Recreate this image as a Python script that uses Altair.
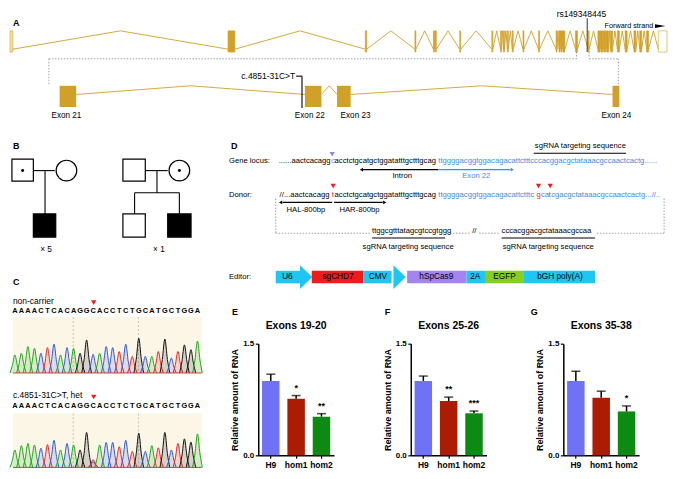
import altair as alt
import pandas as pd

FONT = "Liberation Sans"
W, H = 660, 463          # drawing size
RW, RH = 676, 479        # reference coordinate frame
HC = 336                 # height of the diagram view (top of bar plots)

# ---------------- Panel A: CHD7 gene model ----------------
gene_exon_start = [0, 224, 365, 416, 435, 437, 462, 495, 504, 507, 511, 516, 527, 543, 561, 564,
                   566, 568, 581, 594, 604, 607, 610, 613, 617, 624, 632, 641, 647, 654, 666]
gene_exon_end = [3, 231, 366.5, 417, 436, 438, 463, 496, 505, 508, 512, 517, 528, 544, 562, 565,
                 567, 570, 583, 595, 606, 609, 612, 615, 619, 626, 634, 643, 649, 656, 675]
zoom_exon_names = ["Exon 21", "Exon 22", "Exon 23", "Exon 24"]
zoom_exon_start = [51, 303, 336, 619]
zoom_exon_end = [68, 320, 350, 626]
zoom_exon_label_x = [58, 308, 355, 623]

# ---------------- Panel B: pedigrees ----------------
ped_x0 = [2, 24, 116, 116, 162]
ped_x1 = [24, 47, 139, 139, 186]
ped_y0 = [156, 213, 156, 213, 213]
ped_y1 = [179, 237, 179, 237, 237]
ped_fill = ["white", "black", "white", "white", "black"]
ped_circle_x = [58, 174]
ped_dot_x = [13, 174]

# ---------------- Panel C: Sanger chromatograms ----------------
seq = "AAAACTCACAGGCACCTCTGCATGCTGGA"
peak_noncarrier = [0.52, 0.57, 0.76, 0.71, 0.57, 0.73, 0.83, 0.52, 0.73, 0.71, 0.57, 0.95, 0.54, 0.57,
                   0.76, 0.73, 0.62, 0.83, 0.48, 1.0, 0.48, 0.48, 0.62, 0.98, 0.43, 0.62, 0.81, 0.67, 0.92]
peak_het = [0.49, 0.61, 0.67, 0.63, 0.54, 0.64, 0.76, 0.49, 0.67, 0.63, 0.49, 0.98, 0.16, 0.63,
            0.70, 0.70, 0.58, 0.76, 0.45, 0.96, 0.45, 0.61, 0.55, 0.98, 0.49, 0.67, 0.80, 0.71, 0.94]
het_extra_base = "T"
het_extra_height = 0.22
base_colors = {"A": "#1fa51f", "C": "#2f55e0", "G": "#111111", "T": "#e3262b"}

# ---------------- Panel D: editing strategy ----------------
editor_parts = ["U6", "sgCHD7", "CMV", "hSpCas9", "2A", "EGFP", "bGH poly(A)"]
editor_start = [273, 310, 363, 408, 469, 488, 528]
editor_end = [298, 363, 392, 469, 488, 528, 601]
editor_colors = ["#1fc6f1", "#ee1c1c", "#1fc6f1", "#a384f0", "#1fc6f1", "#86cf1f", "#1fc6f1"]
editor_label_x = [285, 337, 378, 438, 478, 508, 565]

# ---------------- Panels E-G: qPCR ----------------
groups = ["H9", "hom1", "hom2"]
bar_colors = ["#6f72f5", "#ac1c02", "#0c8a12"]
titles = ["Exons 19-20", "Exons 25-26", "Exons 35-38"]
rna_mean = [[1.00, 0.76, 0.52], [1.00, 0.73, 0.565], [1.00, 0.775, 0.59]]
rna_err = [[0.09, 0.043, 0.04], [0.065, 0.052, 0.03], [0.13, 0.087, 0.074]]
rna_sig = [["", "*", "**"], ["", "**", "***"], ["", "", "*"]]

BLUE = "#3a8ee0"
PURPLE = "#9b80ee"
RED = "#ee1c1c"
GOLD = "#d1a028"

XS = alt.Scale(domain=[0, RW], range=[0, W], nice=False, zero=False)
YS = alt.Scale(domain=[0, RH], range=[0, H], nice=False, zero=False)


def X(f="x"):
    return alt.X(f + ":Q", scale=XS, axis=None)


def Y(f="y", stack=False):
    if stack:
        return alt.Y(f + ":Q", scale=YS, axis=None, stack=None)
    return alt.Y(f + ":Q", scale=YS, axis=None)


layers = []

# --- gene exons (top) ---
gdf = pd.DataFrame({"x": gene_exon_start, "x2": gene_exon_end})
gdf["fill"] = [GOLD] * len(gdf)
gdf.loc[0, "fill"] = "#f1dfb4"
gdf.loc[len(gdf) - 1, "fill"] = "white"
gdf["y"] = 23
gdf["y2"] = 45
layers.append(alt.Chart(gdf).mark_rect(stroke=GOLD, strokeWidth=0.6).encode(
    x=X(), x2="x2:Q", y=Y(), y2="y2:Q", fill=alt.Fill("fill:N", scale=None)))


def chevrons(starts, ends, y_end, y_peak, tag):
    rows = []
    for i in range(len(starts) - 1):
        a, b = ends[i], starts[i + 1]
        rows += [dict(g=f"{tag}{i}", x=a, y=y_end, o=0),
                 dict(g=f"{tag}{i}", x=(a + b) / 2, y=y_peak, o=1),
                 dict(g=f"{tag}{i}", x=b, y=y_end, o=2)]
    return rows


intr = pd.DataFrame(chevrons(gene_exon_start, gene_exon_end, 42, 23, "a")
                    + chevrons(zoom_exon_start, zoom_exon_end, 89, 80, "b"))
layers.append(alt.Chart(intr).mark_line(color=GOLD, strokeWidth=0.9).encode(
    x=X(), y=Y(), detail="g:N", order="o:Q"))

zdf = pd.DataFrame({"x": zoom_exon_start, "x2": zoom_exon_end, "y": 80, "y2": 102})
layers.append(alt.Chart(zdf).mark_rect(color=GOLD).encode(x=X(), x2="x2:Q", y=Y(), y2="y2:Q"))

# --- straight rules ---
solid = [
    # A
    (294, 70, 300, 70, "#000"), (300, 70, 300, 103, "#000"), (593, 10, 593, 45, "#444"),
    # B
    (24, 168, 46, 168, "#000"), (36, 168, 36, 213, "#000"),
    (139, 168, 162, 168, "#000"), (151, 168, 151, 191, "#000"), (128, 191, 174, 191, "#000"),
    (128, 191, 128, 213, "#000"), (174, 191, 174, 213, "#000"),
    # D
    (538, 150, 633, 150, "#000"), (372, 238, 447, 238, "#000"), (505, 238, 601, 238, "#000"),
    (362, 167, 440, 167, "#000"), (440, 167, 514, 167, BLUE),
    (280, 201, 331, 201, "#000"), (333, 201, 383, 201, "#000"),
]
sdf = pd.DataFrame(solid, columns=["x", "y", "x2", "y2", "c"])
layers.append(alt.Chart(sdf).mark_rule(strokeWidth=1.1).encode(
    x=X(), y=Y(), x2="x2:Q", y2="y2:Q", color=alt.Color("c:N", scale=None)))

dashed = [
    (40, 52, 40, 80), (40, 52, 582, 52), (582, 45, 582, 52), (595, 45, 595, 52),
    (595, 52, 625, 52), (625, 52, 625, 80),
    (273, 197, 273, 233), (672, 197, 672, 233), (273, 233, 370, 233), (449, 233, 473, 233),
    (482, 233, 503, 233), (603, 233, 672, 233),
]
ddf = pd.DataFrame(dashed, columns=["x", "y", "x2", "y2"])
layers.append(alt.Chart(ddf).mark_rule(strokeWidth=0.8, color="#8a8a8a", strokeDash=[1.5, 1.5]).encode(
    x=X(), y=Y(), x2="x2:Q", y2="y2:Q"))

# --- pedigree ---
pdf = pd.DataFrame({"x": ped_x0, "x2": ped_x1, "y": ped_y0, "y2": ped_y1, "f": ped_fill})
layers.append(alt.Chart(pdf).mark_rect(stroke="black", strokeWidth=1.2).encode(
    x=X(), x2="x2:Q", y=Y(), y2="y2:Q", fill=alt.Fill("f:N", scale=None)))
cdf = pd.DataFrame({"x": ped_circle_x, "y": 168})
layers.append(alt.Chart(cdf).mark_point(shape="circle", size=430, filled=True, fill="white",
                                         stroke="black", strokeWidth=1.2, opacity=1).encode(x=X(), y=Y()))
dotdf = pd.DataFrame({"x": ped_dot_x, "y": 168})
layers.append(alt.Chart(dotdf).mark_point(shape="circle", size=9, filled=True, color="black",
                                           opacity=1).encode(x=X(), y=Y()))

# --- chromatograms ---
seq_x = [5 + i * 6.7 for i in range(len(seq))]
bg = pd.DataFrame({"x": [3, 3], "x2": [197, 197], "y": [320, 420], "y2": [378, 477]})
layers.append(alt.Chart(bg).mark_rect(color="#fcf6e6").encode(x=X(), x2="x2:Q", y=Y(), y2="y2:Q"))
vd = pd.DataFrame({"x": [65, 132, 65, 132], "y": [320, 320, 420, 420], "y2": [378, 378, 477, 477]})
layers.append(alt.Chart(vd).mark_rule(color="#b5b5b5", strokeWidth=0.8, strokeDash=[2, 2]).encode(
    x=X(), y=Y(), y2="y2:Q"))

prow = []


def add_peaks(heights, base_y, scale, tag):
    for i, (b, h) in enumerate(zip(seq, heights)):
        for k, (dx, f) in enumerate([(-5, 0), (-2.6, 0.4), (0, 1), (2.6, 0.4), (5, 0)]):
            prow.append(dict(p=f"{tag}{i}", x=seq_x[i] + dx, y=base_y - h * f * scale,
                             y0=base_y, c=base_colors[b]))


add_peaks(peak_noncarrier, 378, 36, "n")
add_peaks(peak_het, 476, 37, "h")
for k, (dx, f) in enumerate([(-5, 0), (-2.6, 0.4), (0, 1), (2.6, 0.4), (5, 0)]):
    prow.append(dict(p="hx", x=seq_x[12] + dx, y=476 - het_extra_height * f * 37, y0=476,
                     c=base_colors[het_extra_base]))
pk = pd.DataFrame(prow)
layers.append(alt.Chart(pk).mark_area(interpolate="monotone", opacity=0.16).encode(
    x=X(), y=Y(stack=True), y2="y0:Q", detail="p:N", color=alt.Color("c:N", scale=None)))
layers.append(alt.Chart(pk).mark_line(interpolate="monotone", strokeWidth=1).encode(
    x=X(), y=Y(), detail="p:N", color=alt.Color("c:N", scale=None)))
bl = pd.DataFrame({"x": [3, 3], "x2": [197, 197], "y": [378, 476]})
layers.append(alt.Chart(bl).mark_rule(color="#e03a3a", strokeWidth=1).encode(x=X(), x2="x2:Q", y=Y()))

# --- editor construct ---
edf = pd.DataFrame({"x": editor_start, "x2": editor_end, "c": editor_colors, "y": 272, "y2": 285})
layers.append(alt.Chart(edf).mark_rect().encode(
    x=X(), x2="x2:Q", y=Y(), y2="y2:Q", color=alt.Color("c:N", scale=None)))
heads = pd.DataFrame({"x": [304, 400], "y": [278.5, 278.5]})
layers.append(alt.Chart(heads).mark_point(shape="M-0.5,-1L0.55,0L-0.5,1Z", size=560, filled=True,
                                           color="#1fc6f1", opacity=1).encode(x=X(), y=Y()))

# --- triangles / arrow heads ---
tri = pd.DataFrame([
    (331, 151, PURPLE, "triangle-down", 28), (332, 184, RED, "triangle-down", 28),
    (543, 184, RED, "triangle-down", 28), (555, 184, RED, "triangle-down", 28),
    (86, 305, RED, "triangle-down", 28), (86, 403, RED, "triangle-down", 28),
    (361, 167, "#000", "triangle-left", 14), (516, 167, BLUE, "triangle-right", 14),
    (278, 201, "#000", "triangle-left", 14), (385, 201, "#000", "triangle-right", 14),
], columns=["x", "y", "c", "s", "sz"])
layers.append(alt.Chart(tri).mark_point(filled=True, opacity=1).encode(
    x=X(), y=Y(), color=alt.Color("c:N", scale=None), shape=alt.Shape("s:N", scale=None),
    size=alt.Size("sz:Q", scale=None)))
fwd = pd.DataFrame({"x": [668], "y": [18]})
layers.append(alt.Chart(fwd).mark_point(shape="M-1,-0.35L1,0L-1,0.35Z", size=110, filled=True,
                                         color="black", opacity=1).encode(x=X(), y=Y()))

# --- texts ---
texts = []


def T(x, y, s, size=8.3, color="#000", align="left", bold=False):
    texts.append(dict(x=x, y=y, t=s, size=size, c=color, a=align, b=bold))


for lab, lx, ly in [("A", 3, 15), ("B", 3, 142), ("C", 3, 284), ("D", 227, 143),
                    ("E", 228, 315), ("F", 385, 315), ("G", 535, 315)]:
    T(lx, ly, lab, 9, bold=True)
T(587, 5, "rs149348445", 8.5, align="center")
T(661, 18, "Forward strand", 7.3, align="right")
T(293, 70, "c.4851-31C>T", 8.5, align="right")
for name, lx in zip(zoom_exon_names, zoom_exon_label_x):
    T(lx, 111, name, 8.2, align="center")
T(37, 250, "× 5", 8.3, align="center")
T(153, 250, "× 1", 8.3, align="center")
T(3, 303, "non-carrier", 8.5)
T(3, 401, "c.4851-31C>T, het", 8.5)
for i, b in enumerate(seq):
    T(seq_x[i], 314, b, 7.4, align="center", bold=True)
    T(seq_x[i], 412, b, 7.4, align="center", bold=True)
SZ = 7.7
T(225, 158, "Gene locus:", SZ)
T(276, 158, "......aactcacagg", SZ)
T(330, 158, "c", SZ, PURPLE)
T(333.5, 158, "acctctgcatgctggatatttgctttgcag", SZ)
T(440, 158, "ttggggacggtggacagacattctttcccacggacgctataaacgccaactcactg......", SZ, BLUE)
T(586, 143, "sgRNA targeting sequence", SZ, align="center")
T(403, 174, "Intron", SZ, align="center")
T(479, 174, "Exon 22", SZ, BLUE, align="center")
T(225, 193, "Donor:", SZ)
T(277, 193, "//...aactcacagg", SZ)
T(330.5, 193, "t", SZ, RED)
T(333.5, 193, "acctctgcatgctggatatttgctttgcag", SZ)
T(440, 193, "ttggggacggtggacagacattctttc", SZ, BLUE)
T(541, 193, "g", SZ, RED)
T(545.5, 193, "ca", SZ, BLUE)
T(553.5, 193, "t", SZ, RED)
T(556, 193, "cgacgctataaacgccaactcactg...//..", SZ, BLUE)
T(304, 209, "HAL-800bp", SZ, align="center")
T(359, 209, "HAR-800bp", SZ, align="center")
T(372, 231, "ttggcgtttatagcgtccgtggg", SZ)
T(477, 231, "//", SZ, align="center")
T(505, 231, "cccacggacgctataaacgccaa", SZ)
T(409, 247, "sgRNA targeting sequence", SZ, align="center")
T(553, 247, "sgRNA targeting sequence", SZ, align="center")
T(225, 278, "Editor:", SZ)
for p, lx in zip(editor_parts, editor_label_x):
    T(lx, 278.5, p, 8.3, align="center")

tdf = pd.DataFrame(texts)
for (a, b), sub in tdf.groupby(["a", "b"]):
    layers.append(alt.Chart(sub).mark_text(align=a, baseline="middle", font=FONT,
                                           fontWeight="bold" if b else "normal").encode(
        x=X(), y=Y(), text="t:N", size=alt.Size("size:Q", scale=None),
        color=alt.Color("c:N", scale=None)))

canvas = alt.layer(*layers).properties(width=W, height=HC)


# ---------------- bar charts ----------------
def bar_chart(k):
    df = pd.DataFrame({"group": groups, "value": rna_mean[k], "err": rna_err[k], "sig": rna_sig[k]})
    base = alt.Chart(df).transform_calculate(top="datum.value + datum.err")
    xenc = alt.X("group:N", sort=groups,
                 scale=alt.Scale(paddingInner=0.31, paddingOuter=0.15),
                 axis=alt.Axis(title=None, labelAngle=0, labelFontSize=8.5, labelFontWeight="bold",
                               labelColor="black", domainColor="black", domainWidth=1.5,
                               tickColor="black", tickSize=3, tickWidth=1.2, labelPadding=2,
                               labelFont=FONT))
    ysc = alt.Scale(domain=[0, 1.5], nice=False)
    bars = base.mark_bar().encode(
        x=xenc,
        y=alt.Y("value:Q", scale=ysc,
                axis=alt.Axis(values=[0, 0.5, 1.0, 1.5], format=".1f", title="Relative amount of RNA",
                              grid=False, labelFontSize=8, labelFontWeight="bold", labelColor="black",
                              labelFont=FONT, domainColor="black", domainWidth=1.5, tickColor="black",
                              tickSize=3, tickWidth=1.2, labelPadding=1.5, titleFontSize=9,
                              titleFontWeight="bold", titleColor="black", titleFont=FONT,
                              titlePadding=3)),
        color=alt.Color("group:N", scale=alt.Scale(domain=groups, range=bar_colors), legend=None))
    xs = alt.X("group:N", sort=groups)
    errl = base.mark_rule(color="black", strokeWidth=1.5).encode(x=xs, y="value:Q", y2="top:Q")
    caps = base.mark_tick(color="black", thickness=1.5, size=9).encode(x=xs, y="top:Q")
    stars = base.mark_text(baseline="bottom", dy=-3, fontSize=9, fontWeight="bold", font=FONT).encode(
        x=xs, y="top:Q", text="sig:N")
    return alt.layer(bars, errl, caps, stars).properties(
        width=76, height=112,
        title=alt.TitleParams(titles[k], fontSize=10.5, fontWeight="bold", font=FONT, anchor="middle",
                              frame="group", offset=8, color="black"))


spacer = alt.Chart(pd.DataFrame({"v": [0]})).mark_point(opacity=0).encode(
    x=alt.X("v:Q", axis=None), y=alt.Y("v:Q", axis=None)).properties(width=172, height=112)

bottom = alt.hconcat(spacer, bar_chart(0), bar_chart(1), bar_chart(2), spacing=77, bounds="flush")
chart = alt.vconcat(canvas, bottom, spacing=0, bounds="flush", padding=0).configure(
    font=FONT).configure_view(stroke=None)

chart.save("out.html", embed_options={"renderer": "svg", "actions": False})
